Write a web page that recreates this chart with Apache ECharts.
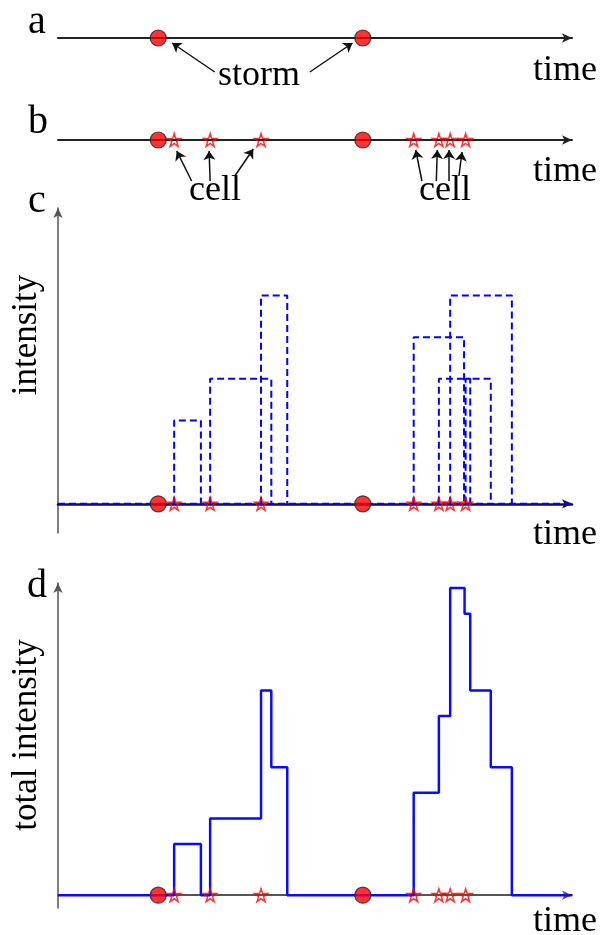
<!DOCTYPE html>
<html>
<head>
<meta charset="utf-8">
<script src="https://cdn.jsdelivr.net/npm/echarts@6/dist/echarts.min.js"></script>
<style>html,body{margin:0;padding:0;background:#fff}#chart{width:607px;height:935px}</style>
</head>
<body>
<div id="chart"></div>
<script>
// ---- data (time axis 0..100) ----
const timeMax = 100;
const stormTimes = [19.5, 59.3];
const cellStarts = [22.6, 29.6, 39.5, 69.2, 74.1, 76.3, 79.3];
const cellEnds   = [27.8, 41.5, 44.6, 79.0, 80.2, 88.3, 84.2];
const cellIntensity = [2, 3, 5, 4, 3, 5, 3];
const totalTimes  = [0, 22.6, 27.8, 29.6, 39.5, 41.5, 44.6, 69.2, 74.1, 76.3, 79.1, 80.2, 84.2, 88.3, 100];
const totalValues = [0, 2, 0, 3, 8, 5, 0, 4, 7, 12, 11, 8, 5, 0, 0];
// annotation arrows: [fromTime, fromLevel, toTime, toLevel]
const stormArrows = [[30.5, -34, 22.2, -5], [49.0, -34, 57.3, -5]];
const cellArrows = [[26.0, -41, 23.1, -11], [29.6, -41, 29.4, -11], [34.4, -36, 38.0, -9],
                    [70.8, -41, 69.6, -10], [73.6, -41, 73.8, -10], [76.1, -41, 76.1, -10], [78.0, -36, 78.6, -12]];
const panelLetters = ['a', 'b', 'c', 'd'];
const xName = 'time';

// ---- styles ----
const FONT = '"Liberation Serif","DejaVu Serif",serif';
const STAR = 'path://M50,2 L61,36 L97,36 L68,57 L79,92 L50,71 L21,92 L32,57 L3,36 L39,36 Z';

function xAxisCfg(idx, color, width) {
  return {
    type: 'value', gridIndex: idx, min: 0, max: timeMax,
    axisLine: { show: true, onZero: true, symbol: ['none', 'arrow'], symbolSize: [7, 10],
      lineStyle: { color: color, width: width } },
    axisTick: { show: false }, axisLabel: { show: false }, splitLine: { show: false }
  };
}
function yAxisCfg(idx, min, max, show) {
  return {
    type: 'value', gridIndex: idx, min: min, max: max, show: true,
    axisLine: { show: show, onZero: false, symbol: ['none', 'arrow'], symbolSize: [7, 10],
      lineStyle: { color: '#555', width: 1.5 } },
    axisTick: { show: false }, axisLabel: { show: false }, splitLine: { show: false }
  };
}
function stormSeries(idx) {
  return { type: 'scatter', xAxisIndex: idx, yAxisIndex: idx, z: 10,
    symbol: 'circle', symbolSize: 16, clip: false,
    itemStyle: { color: '#ff0000', borderColor: '#222', borderWidth: 1.2 },
    data: stormTimes.map(t => [t, 0]) };
}
function starSeries(idx) {
  return { type: 'scatter', xAxisIndex: idx, yAxisIndex: idx, z: 9,
    symbol: STAR, symbolSize: 13, clip: false,
    itemStyle: { color: 'rgba(255,255,255,0)', borderColor: '#ff0000', borderWidth: 1.5 },
    data: cellStarts.map(t => [t, 0]) };
}
function arrowMark(list) {
  return { silent: true, symbol: ['none', 'arrow'], symbolSize: 9, animation: false,
    label: { show: false },
    lineStyle: { color: '#111', width: 1.5, type: 'solid' },
    emphasis: { disabled: true },
    data: list.map(a => [{ coord: [a[0], a[1]] }, { coord: [a[2], a[3]] }]) };
}

const series = [];
// panel a
const sa = stormSeries(0); sa.markLine = arrowMark(stormArrows); series.push(sa);
// panel b
const sb = stormSeries(1); sb.markLine = arrowMark(cellArrows); series.push(sb);
series.push(starSeries(1));
// panel c
series.push({ type: 'line', xAxisIndex: 2, yAxisIndex: 2, symbol: 'none', z: 3,
  lineStyle: { color: '#0000ff', width: 2, type: [7, 4] }, data: [[0, 0], [timeMax, 0]] });
cellStarts.forEach((s, i) => {
  series.push({ type: 'line', xAxisIndex: 2, yAxisIndex: 2, symbol: 'none', z: 4,
    lineStyle: { color: '#0000ff', width: 2, type: [7, 4] },
    data: [[s, 0], [s, cellIntensity[i]], [cellEnds[i], cellIntensity[i]], [cellEnds[i], 0]] });
});
series.push(stormSeries(2));
series.push(starSeries(2));
// panel d
series.push({ type: 'line', xAxisIndex: 3, yAxisIndex: 3, symbol: 'none', step: 'end', z: 4,
  lineStyle: { color: '#0a0aff', width: 2.5 },
  data: totalTimes.map((t, i) => [t, totalValues[i]]) });
series.push(stormSeries(3));
series.push(starSeries(3));

// text placed by its baseline (top-aligned box shifted up by ~0.77 em)
function txt(text, x, base, size, align) {
  return { type: 'text', x: x, y: base - Math.round(size * 0.77), silent: true,
    style: { text: text, font: size + 'px ' + FONT, fill: '#000',
      textAlign: align || 'left', textVerticalAlign: 'top' } };
}
function rtxt(text, x, y, size) {
  return { type: 'text', x: x, y: y, rotation: Math.PI / 2, silent: true,
    style: { text: text, font: size + 'px ' + FONT, fill: '#000',
      textAlign: 'center', textVerticalAlign: 'middle' } };
}

const option = {
  animation: false,
  backgroundColor: '#fff',
  grid: [
    { left: 58, width: 514, top: 10, height: 80 },
    { left: 58, width: 514, top: 112, height: 100 },
    { left: 58, width: 514, top: 208, height: 325 },
    { left: 58, width: 514, top: 583, height: 325 }
  ],
  xAxis: [ xAxisCfg(0, '#222', 2), xAxisCfg(1, '#222', 2), xAxisCfg(2, '#10103a', 2.5), xAxisCfg(3, '#555', 2) ],
  yAxis: [ yAxisCfg(0, -52, 28, false), yAxisCfg(1, -72, 28, false), yAxisCfg(2, -0.7, 7.1, true), yAxisCfg(3, -0.5, 12.2, true) ],
  series: series,
  graphic: [
    txt(panelLetters[0], 28, 33, 40),
    txt(panelLetters[1], 28, 133, 40),
    txt(panelLetters[2], 28, 212, 40),
    txt(panelLetters[3], 27, 597, 40),
    txt(xName, 597, 81, 36, 'right'),
    txt(xName, 597, 182, 36, 'right'),
    txt(xName, 597, 545, 36, 'right'),
    txt(xName, 597, 932, 36, 'right'),
    txt('storm', 259, 86, 36, 'center'),
    txt('cell', 215, 201, 36, 'center'),
    txt('cell', 445, 201, 36, 'center'),
    rtxt('intensity', 27, 335, 35),
    rtxt('total intensity', 27, 735, 35)
  ]
};
const chart = echarts.init(document.getElementById('chart'), null, { renderer: 'canvas' });
chart.setOption(option);
</script>
</body>
</html>
